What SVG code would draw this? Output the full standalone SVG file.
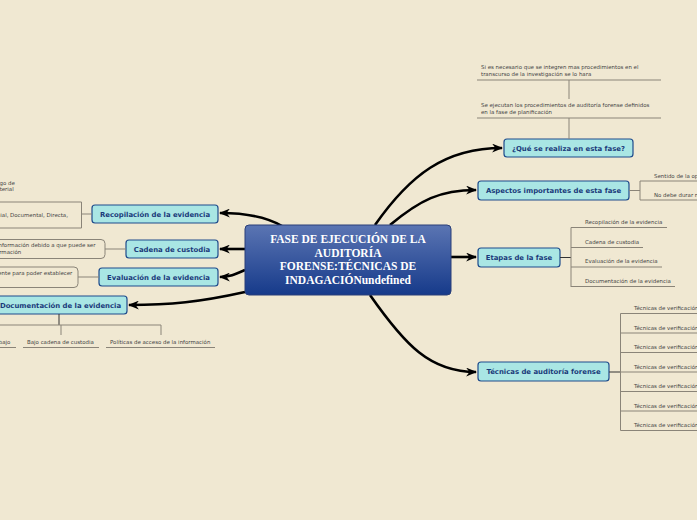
<svg xmlns="http://www.w3.org/2000/svg" width="697" height="520" viewBox="0 0 697 520">
<style>
.bg{fill:#f0e8d2}
.node rect{fill:#a9e6e4;stroke:#1e4b8c;stroke-width:1.2}
.node text{font-family:"DejaVu Sans",Verdana,sans-serif;font-weight:bold;font-size:6.9px;fill:#1a3a7a;text-anchor:middle}
.sub{font-family:"DejaVu Sans",Verdana,sans-serif;font-size:5.45px;fill:#444}
.line{stroke:#8a8478;stroke-width:1;fill:none}
.dark{stroke:#333;stroke-width:1;fill:none}
.conn{stroke:#000;stroke-width:2.6;fill:none;marker-end:url(#arr)}
.sbox{fill:none;stroke:#8a8478;stroke-width:1}
.center text{font-family:"Liberation Serif","Times New Roman",serif;font-weight:bold;font-size:11.5px;fill:#fff;text-anchor:middle}
</style>
<defs>
<linearGradient id="cg" x1="0" y1="0" x2="0" y2="1">
<stop offset="0" stop-color="#5b75b3"/>
<stop offset="1" stop-color="#163a8a"/>
</linearGradient>
<marker id="arr" viewBox="0 0 10 8" refX="9" refY="4" markerWidth="11" markerHeight="9" markerUnits="userSpaceOnUse" orient="auto">
<path d="M0,0 L10,4 L0,8 L3,4 Z" fill="#000"/>
</marker>
</defs>
<rect class="bg" x="0" y="0" width="697" height="520"/>

<g id="connectors">
<path class="conn" d="M375,225 C410,175 445,148 502,148"/>
<path class="conn" d="M390,225 C420,200 440,190 476,190"/>
<path class="conn" d="M451,257 L476,257"/>
<path class="conn" d="M370,295 C405,345 430,372 476,372"/>
<path class="conn" d="M282,226 C265,216 245,213 220,213"/>
<path class="conn" d="M245,249 L220,249"/>
<path class="conn" d="M245,270 C236,274 230,277 220,277"/>
<path class="conn" d="M245,292 C200,302 170,305 129,305"/>
</g>

<g id="center" class="center">
<rect x="245" y="225" width="206" height="70" rx="4" fill="url(#cg)" stroke="#2a3f78" stroke-width="1"/>
<text x="348" y="243">FASE DE EJECUCIÓN DE LA</text>
<text x="348" y="257">AUDITORÍA</text>
<text x="348" y="270">FORENSE:TÉCNICAS DE</text>
<text x="348" y="284">INDAGACIÓNundefined</text>
</g>

<g id="n-que" class="node">
<rect x="504" y="139" width="129" height="18" rx="3"/>
<text x="568.5" y="150.5">¿Qué se realiza en esta fase?</text>
</g>
<g id="n-que-subs">
<text class="sub" x="481" y="69">Si es necesario que se integren mas procedimientos en el</text>
<text class="sub" x="481" y="76">transcurso de la investigación se lo hara</text>
<line class="line" x1="477" y1="80" x2="661" y2="80"/>
<line class="line" x1="569" y1="80" x2="569" y2="99"/>
<text class="sub" x="481" y="107">Se ejecutan los procedimientos de auditoría forense definidos</text>
<text class="sub" x="481" y="114">en la fase de planificación</text>
<line class="line" x1="477" y1="118" x2="661" y2="118"/>
<line class="line" x1="569" y1="118" x2="569" y2="139"/>
</g>

<g id="n-aspectos" class="node">
<rect x="478" y="181" width="151" height="19" rx="3"/>
<text x="553.5" y="193">Aspectos importantes de esta fase</text>
</g>
<g id="n-aspectos-subs">
<line class="line" x1="629" y1="190.5" x2="640" y2="190.5"/>
<line class="line" x1="640" y1="181" x2="640" y2="200"/>
<line class="line" x1="640" y1="181" x2="697" y2="181"/>
<line class="line" x1="640" y1="200" x2="697" y2="200"/>
<text class="sub" x="654" y="177.5">Sentido de la oportunidad</text>
<text class="sub" x="654" y="196.5">No debe durar mucho tiempo</text>
</g>

<g id="n-etapas" class="node">
<rect x="478" y="248" width="82" height="19" rx="3"/>
<text x="519" y="260">Etapas de la fase</text>
</g>
<g id="n-etapas-subs">
<line class="dark" x1="560" y1="257.5" x2="571" y2="257.5"/>
<line class="line" x1="571" y1="227.5" x2="571" y2="287"/>
<line class="line" x1="571" y1="227.5" x2="667" y2="227.5"/>
<line class="line" x1="571" y1="247.5" x2="643" y2="247.5"/>
<line class="line" x1="571" y1="267" x2="662" y2="267"/>
<line class="line" x1="571" y1="286.5" x2="675" y2="286.5"/>
<text class="sub" x="585" y="224">Recopilación de la evidencia</text>
<text class="sub" x="585" y="244">Cadena de custodia</text>
<text class="sub" x="585" y="263">Evaluación de la evidencia</text>
<text class="sub" x="585" y="283">Documentación de la evidencia</text>
</g>

<g id="n-tecnicas" class="node">
<rect x="478" y="362" width="131" height="19" rx="3"/>
<text x="543.5" y="374">Técnicas de auditoría forense</text>
</g>
<g id="n-tecnicas-subs">
<line class="dark" x1="609" y1="372" x2="620.5" y2="372"/>
<line class="line" x1="620.5" y1="313.5" x2="620.5" y2="430.5"/>
<line class="line" x1="620.5" y1="313.5" x2="697" y2="313.5"/>
<line class="line" x1="620.5" y1="333" x2="697" y2="333"/>
<line class="line" x1="620.5" y1="352.5" x2="697" y2="352.5"/>
<line class="line" x1="620.5" y1="372" x2="697" y2="372"/>
<line class="line" x1="620.5" y1="391.5" x2="697" y2="391.5"/>
<line class="line" x1="620.5" y1="411" x2="697" y2="411"/>
<line class="line" x1="620.5" y1="430.5" x2="697" y2="430.5"/>
<text class="sub" x="634" y="310">Técnicas de verificación</text>
<text class="sub" x="634" y="329.5">Técnicas de verificación</text>
<text class="sub" x="634" y="349">Técnicas de verificación</text>
<text class="sub" x="634" y="368.5">Técnicas de verificación</text>
<text class="sub" x="634" y="388">Técnicas de verificación</text>
<text class="sub" x="634" y="407.5">Técnicas de verificación</text>
<text class="sub" x="634" y="427">Técnicas de verificación</text>
</g>

<g id="n-recop" class="node">
<rect x="92" y="205" width="126" height="18" rx="3"/>
<text x="155" y="216.5">Recopilación de la evidencia</text>
</g>
<g id="n-recop-subs">
<line class="line" x1="81.5" y1="214" x2="92" y2="214"/>
<line class="line" x1="81.5" y1="202" x2="81.5" y2="228"/>
<line class="line" x1="-2" y1="202" x2="81.5" y2="202"/>
<line class="line" x1="-2" y1="228" x2="81.5" y2="228"/>
<text class="sub" x="-18" y="184.5">Catálogo de</text>
<text class="sub" x="-9" y="191">material</text>
<text class="sub" x="-24" y="216.5">Testimonial, Documental, Directa,</text>
</g>

<g id="n-cadena" class="node">
<rect x="126" y="240" width="92" height="18" rx="3"/>
<text x="172" y="251.5">Cadena de custodia</text>
</g>
<g id="n-cadena-subs">
<line class="line" x1="105" y1="249" x2="126" y2="249"/>
<rect class="sbox" x="-20" y="239.5" width="125" height="19" rx="4"/>
<text class="sub" x="-3" y="247">información debido a que puede ser</text>
<text class="sub" x="-11" y="254">información</text>
</g>

<g id="n-evaluacion" class="node">
<rect x="99" y="268" width="119" height="18" rx="3"/>
<text x="158.5" y="279.5">Evaluación de la evidencia</text>
</g>
<g id="n-evaluacion-subs">
<line class="line" x1="78" y1="277" x2="99" y2="277"/>
<rect class="sbox" x="-20" y="267" width="98" height="20.5" rx="4"/>
<text class="sub" x="-16" y="275">suficiente para poder establecer</text>
</g>

<g id="n-documentacion" class="node">
<rect x="-6" y="296" width="133" height="18" rx="3"/>
<text x="60.5" y="307.5">Documentación de la evidencia</text>
</g>
<g id="n-documentacion-subs">
<line class="dark" x1="59" y1="314" x2="59" y2="325"/>
<line class="line" x1="-2" y1="325" x2="161" y2="325"/>
<line class="line" x1="61" y1="325" x2="61" y2="335"/>
<line class="line" x1="161" y1="325" x2="161" y2="335"/>
<text class="sub" x="-40" y="344">Papeles de trabajo</text>
<text class="sub" x="27" y="344">Bajo cadena de custodia</text>
<text class="sub" x="110" y="344">Políticas de acceso de la información</text>
<line class="line" x1="-2" y1="347.5" x2="16" y2="347.5"/>
<line class="line" x1="23" y1="347.5" x2="99" y2="347.5"/>
<line class="line" x1="106" y1="347.5" x2="215" y2="347.5"/>
</g>
</svg>
